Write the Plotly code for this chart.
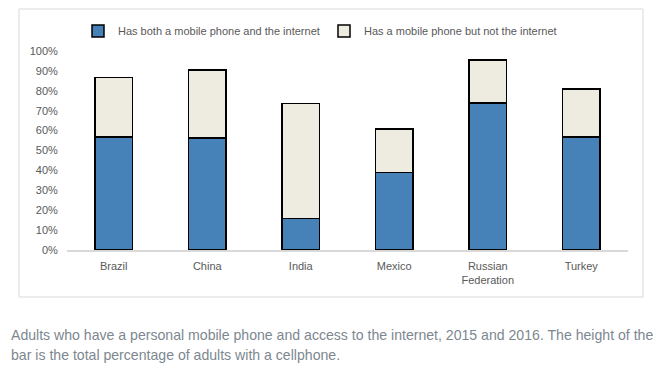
import plotly.graph_objects as go

countries = ["Brazil", "China", "India", "Mexico", "Russian<br>Federation", "Turkey"]
both = [0.567, 0.562, 0.158, 0.390, 0.738, 0.567]
total = [0.866, 0.905, 0.735, 0.607, 0.955, 0.809]
phone_only = [round(t - b, 3) for t, b in zip(total, both)]
yticks = [i / 10 for i in range(11)]
ytick_labels = [f"{i*10}%" for i in range(11)]

fam = "Liberation Sans, Arial"
label_color = "#595959"
caption_color = "#7d8790"

fig = go.Figure()
fig.add_trace(go.Bar(
    x=countries, y=both, name="Has both a mobile phone and the internet",
    marker=dict(color="#4682B8", line=dict(color="black", width=1.5)),
))
fig.add_trace(go.Bar(
    x=countries, y=phone_only, name="Has a mobile phone but not the internet",
    marker=dict(color="#EEEBE0", line=dict(color="black", width=1.5)),
))

# page body has an 8px margin; figure sized to fit the 661x369 window
OFF = 8
W, H = 661 - OFF, 369 - OFF
L, R, T, B = 67 - OFF, 33, 51 - OFF, 119
pw, ph = W - L - R, H - T - B

def px(x):
    return (x - OFF - L) / pw

def py(y):
    return (H - B - (y - OFF)) / ph

fig.update_layout(
    width=W, height=H,
    barmode="stack", bargap=0.6,
    margin=dict(l=L, r=R, t=T, b=B, autoexpand=False),
    paper_bgcolor="white", plot_bgcolor="white",
    font=dict(family=fam, size=11, color=label_color),
    showlegend=True,
    legend=dict(orientation="h", x=px(78), y=py(31), xanchor="left", yanchor="middle",
                entrywidth=201, entrywidthmode="pixels", itemwidth=30,
                font=dict(family=fam, size=11, color=label_color),
                traceorder="normal", bgcolor="rgba(0,0,0,0)"),
    xaxis=dict(showline=True, linecolor="#d9d9d9", linewidth=1.5, showgrid=False,
               ticks="outside", ticklen=5, tickcolor="rgba(0,0,0,0)",
               tickfont=dict(family=fam, size=11, color=label_color)),
    yaxis=dict(range=[0, 1], tickvals=yticks, ticktext=ytick_labels, showgrid=False,
               showline=False, zeroline=False, ticks="outside", ticklen=6,
               tickcolor="rgba(0,0,0,0)",
               tickfont=dict(family=fam, size=11, color=label_color)),
    shapes=[dict(type="rect", xref="paper", yref="paper",
                 x0=px(19), x1=px(643), y0=py(297), y1=py(9),
                 line=dict(color="#d9d9d9", width=1), layer="below")],
    annotations=[
        dict(text="Adults who have a personal mobile phone and access to the internet, 2015 and 2016. The height of the",
             xref="paper", yref="paper", x=px(9), y=py(335), xanchor="left", yanchor="middle",
             showarrow=False, font=dict(family=fam, size=14.1, color=caption_color)),
        dict(text="bar is the total percentage of adults with a cellphone.",
             xref="paper", yref="paper", x=px(9), y=py(355), xanchor="left", yanchor="middle",
             showarrow=False, font=dict(family=fam, size=14.1, color=caption_color)),
    ],
)

fig.write_html("out.html")
